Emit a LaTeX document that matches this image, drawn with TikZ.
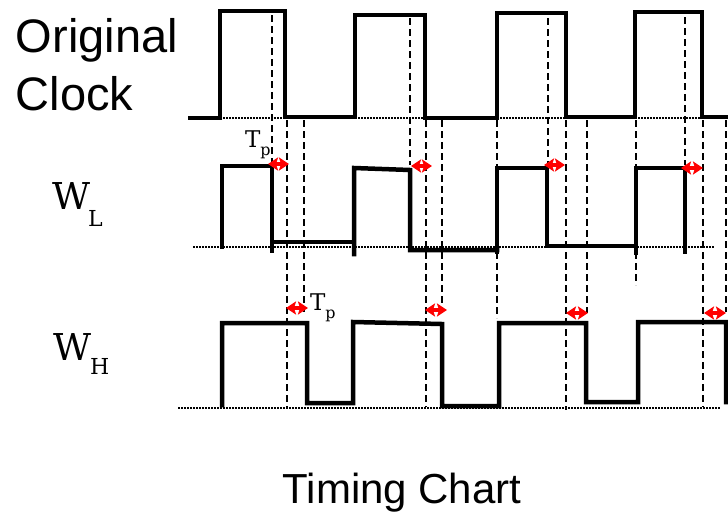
\documentclass[tikz,border=0pt]{standalone}
\usepackage{fontspec}
\setmainfont{Liberation Sans}
\newfontfamily\serifm{DejaVu Serif}
\usetikzlibrary{arrows.meta}
\tikzset{
  sig/.style={line width=4.5pt, line join=miter, line cap=rect},
  dsh/.style={line width=1.6pt, dash pattern=on 7pt off 4pt},
  dotl/.style={line width=1.2pt, dash pattern=on 1.5pt off 1.5pt},
  tparrow/.style={red, line width=3.2pt, {Stealth[length=10pt,width=13pt,inset=2pt]}-{Stealth[length=10pt,width=13pt,inset=2pt]}},
  lbl/.style={inner sep=0pt, outer sep=0pt}
}
\begin{document}
\begin{tikzpicture}[x=1pt,y=-1pt]
\useasboundingbox (0,0) rectangle (728,512);
% labels
\node[lbl, anchor=base west] (orig) at (16,52) {\fontsize{47}{47}\selectfont Original};
\node[lbl, anchor=base west] (clk) at (16,110) {\fontsize{47}{47}\selectfont Clock};
\node[lbl, anchor=base west] (wl) at (52,209) {\serifm\fontsize{37}{37}\selectfont W\kern-2pt\raisebox{-17pt}{\fontsize{22}{22}\selectfont L}};
\node[lbl, anchor=base west] (wh) at (53,360) {\serifm\fontsize{37}{37}\selectfont W\kern-1pt\raisebox{-14pt}{\fontsize{22}{22}\selectfont H}};
\node[lbl, anchor=base west] (tp1) at (245,147) {\serifm\fontsize{23}{23}\selectfont T\raisebox{-8pt}{\fontsize{16}{16}\selectfont p}};
\node[lbl, anchor=base west] (tp2) at (310,310) {\serifm\fontsize{23}{23}\selectfont T\raisebox{-8pt}{\fontsize{16}{16}\selectfont p}};
\node[lbl, anchor=base] (title) at (402,503) {\fontsize{42}{42}\selectfont Timing Chart};
% dashed guide lines
\draw[dsh] (272,15)--(272,162);
\draw[dsh] (287,120)--(287,408);
\draw[dsh] (304,120)--(304,312);
\draw[dsh] (410,18)--(410,165);
\draw[dsh] (426,120)--(426,407);
\draw[dsh] (442,120)--(442,310);
\draw[dsh] (497,120)--(497,318);
\draw[dsh] (548,18)--(548,163);
\draw[dsh] (566,120)--(566,410);
\draw[dsh] (587,120)--(587,313);
\draw[dsh] (636,120)--(636,285);
\draw[dsh] (685,17)--(685,165);
\draw[dsh] (703,120)--(703,407);
\draw[dsh] (726,120)--(726,312);
% dotted baselines
\draw[dotl] (220,118)--(285,118);
\draw[dotl] (355,118)--(425,118);
\draw[dotl] (497,118)--(566,118);
\draw[dotl] (635,118)--(702,118);
\draw[dotl] (193,247)--(715,247);
\draw[dotl] (178,408)--(720,408);
% original clock
\draw[sig] (190,118)--(220,118)--(220,11)--(285,11)--(285,117)--(355,117)--(355,15)--(425,15)--(425,118)--(497,118)--(497,13)--(566,13)--(566,117)--(635,117)--(635,12)--(702,12)--(702,117)--(730,117);
% W_L
\draw[sig] (222,247)--(222,166)--(272,166)--(272,251);
\draw[sig] (272,242)--(354,242);
\draw[sig] (354,254)--(354,168)--(410,170)--(410,250)--(497,250);
\draw[sig] (497,252)--(497,168)--(547,168)--(547,246)--(636,246);
\draw[sig] (636,253)--(636,168)--(685,168)--(685,252);
% W_H
\draw[sig] (222,405)--(222,323)--(307,323)--(307,403)--(353,403)--(353,322)--(442,324)--(442,406)--(499,406)--(499,323)--(586,323)--(586,402)--(638,402)--(638,322)--(726,322)--(726,402);
% Tp arrows
\coordinate (a1s) at (268,164); \coordinate (a1e) at (289,164);
\coordinate (a2s) at (411,166); \coordinate (a2e) at (432,166);
\coordinate (a3s) at (544,165); \coordinate (a3e) at (565,165);
\coordinate (a4s) at (681,168); \coordinate (a4e) at (703,168);
\coordinate (b1s) at (286,308); \coordinate (b1e) at (308,308);
\coordinate (b2s) at (425,310); \coordinate (b2e) at (447,310);
\coordinate (b3s) at (566,313); \coordinate (b3e) at (588,313);
\coordinate (b4s) at (704,313); \coordinate (b4e) at (726,313);
\foreach \p in {a1,a2,a3,a4,b1,b2,b3,b4}{\draw[tparrow] (\p s)--(\p e);}
\end{tikzpicture}
\end{document}
